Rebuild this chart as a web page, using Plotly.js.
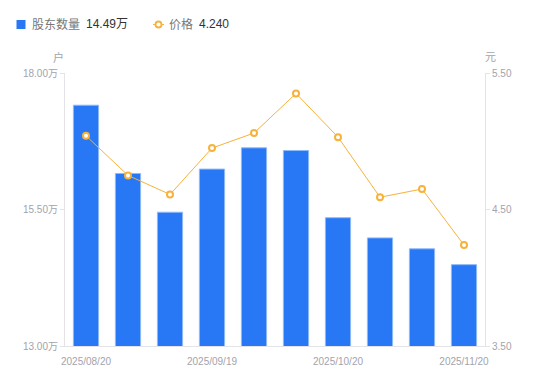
<!DOCTYPE html>
<html><head><meta charset="utf-8">
<script src="https://cdn.plot.ly/plotly-3.0.1.min.js"></script>
<style>html,body{margin:0;padding:0;background:#fff}#c{width:550px;height:381px}</style>
</head><body><div id="c"></div>
<script>
const dates = ['2025/08/20','2025/08/29','2025/09/10','2025/09/19','2025/09/30','2025/10/10','2025/10/20','2025/10/31','2025/11/10','2025/11/20'];
const holders = [17.41, 16.16, 15.45, 16.24, 16.63, 16.58, 15.35, 14.98, 14.78, 14.49];
const price = [5.04, 4.75, 4.61, 4.95, 5.06, 5.35, 5.03, 4.59, 4.65, 4.24];
const xTickVals = ['2025/08/20','2025/09/19','2025/10/20','2025/11/20'];
const leftTicks = [13, 15.5, 18];
const leftTickText = ['13.00万','15.50万','18.00万'];
const rightTicks = [3.5, 4.5, 5.5];
const rightTickText = ['3.50','4.50','5.50'];
const seriesNames = ['股东数量', '价格'];

const FONT = 'Liberation Sans, Arial, Noto Sans CJK SC, sans-serif';
const grey = '#a3a3ad';
const BLUE = '#2878f5', ORANGE = '#f7b23b';
const lastH = holders[holders.length-1].toFixed(2) + '万';
const lastP = price[price.length-1].toFixed(3);

// margins
const L = 65, R = 65, T = 73, B = 35, W = 550, H = 381;
const pw = W - L - R, ph = H - T - B;
const px = x => (x - L) / pw;
const py = y => (H - B - y) / ph;

const traces = [
  {type:'bar', x:dates, y:holders, yaxis:'y', width:0.6, name:seriesNames[0],
   marker:{color:BLUE, line:{color:'#8fb9fb', width:1}}, hoverinfo:'skip'},
  {type:'scatter', mode:'lines+markers', x:dates, y:price, yaxis:'y2', name:seriesNames[1],
   line:{color:ORANGE, width:1},
   marker:{symbol:'circle', size:6, color:'#ffffff', line:{color:ORANGE, width:2}}, hoverinfo:'skip'}
];

const ly = 24.5;
const layout = {
  width:W, height:H,
  margin:{l:L, r:R, t:T, b:B},
  paper_bgcolor:'#fff', plot_bgcolor:'#fff',
  font:{family:FONT, size:10, color:grey},
  showlegend:false,
  xaxis:{type:'category', range:[-0.5, 9.5], tickmode:'array', tickvals:xTickVals, ticktext:xTickVals,
    showgrid:false, zeroline:false, showline:true, linecolor:'#e3e3e8', linewidth:1,
    ticks:'', ticklabelstandoff:6, tickfont:{size:10, color:grey}},
  yaxis:{range:[13, 18], tickmode:'array', tickvals:leftTicks, ticktext:leftTickText,
    showgrid:false, zeroline:false, showline:true, linecolor:'#e3e3e8', linewidth:1,
    ticks:'outside', ticklen:4, tickcolor:'#e3e3e8', tickfont:{size:10, color:grey}},
  yaxis2:{range:[3.5, 5.5], overlaying:'y', side:'right', tickmode:'array', tickvals:rightTicks, ticktext:rightTickText,
    showgrid:false, zeroline:false, showline:true, linecolor:'#e3e3e8', linewidth:1,
    ticks:'outside', ticklen:4, tickcolor:'#e3e3e8', tickfont:{size:10, color:grey}},
  shapes:[
    {type:'rect', xref:'paper', yref:'paper', x0:px(16.5), x1:px(25.5), y0:py(29), y1:py(20), fillcolor:BLUE, line:{width:0}},
    {type:'line', xref:'paper', yref:'paper', x0:px(153), x1:px(164), y0:py(ly), y1:py(ly), line:{color:ORANGE, width:1}},
    {type:'circle', xref:'paper', yref:'paper', x0:px(155.5), x1:px(161.5), y0:py(ly+3), y1:py(ly-3), fillcolor:'#fff', line:{color:ORANGE, width:1.8}}
  ],
  annotations:[
    {text:seriesNames[0], xref:'paper', yref:'paper', x:px(30), y:py(ly), xanchor:'left', yanchor:'middle', showarrow:false, font:{size:12, color:'#777'}},
    {text:lastH, xref:'paper', yref:'paper', x:px(84), y:py(ly), xanchor:'left', yanchor:'middle', showarrow:false, font:{size:12, color:'#333'}},
    {text:seriesNames[1], xref:'paper', yref:'paper', x:px(167), y:py(ly), xanchor:'left', yanchor:'middle', showarrow:false, font:{size:12, color:'#777'}},
    {text:lastP, xref:'paper', yref:'paper', x:px(197), y:py(ly), xanchor:'left', yanchor:'middle', showarrow:false, font:{size:12, color:'#333'}},
    {text:'户', xref:'paper', yref:'paper', x:px(58), y:py(57), xanchor:'center', yanchor:'middle', showarrow:false, font:{size:11, color:grey}},
    {text:'元', xref:'paper', yref:'paper', x:px(490), y:py(57), xanchor:'center', yanchor:'middle', showarrow:false, font:{size:11, color:grey}}
  ]
};
Plotly.newPlot('c', traces, layout, {displayModeBar:false, staticPlot:true});
</script></body></html>
